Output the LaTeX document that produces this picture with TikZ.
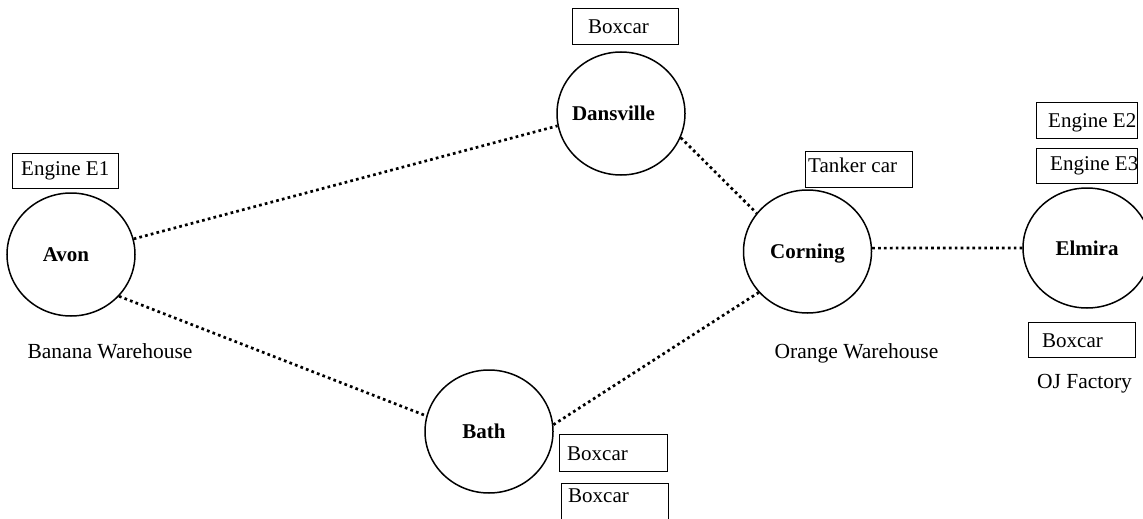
\documentclass[tikz,border=0pt]{standalone}
\usepackage{fontspec}
\setmainfont{Liberation Serif}
\usetikzlibrary{shapes.geometric}
\tikzset{
  town/.style={draw, ellipse, line width=1.5pt, inner sep=0pt, minimum width=128pt, minimum height=123pt,
    font=\fontsize{21}{25}\selectfont\bfseries, text height=14pt, text depth=0pt},
  carbox/.style={draw, rectangle, line width=1.2pt, inner sep=0pt, anchor=north west},
  boxtext/.style={anchor=base west, inner sep=0pt, font=\fontsize{21}{25}\selectfont},
  place/.style={anchor=base, inner sep=0pt, font=\fontsize{21.5}{25}\selectfont},
  track/.style={line width=2.7pt, dash pattern=on 2.7pt off 3.2pt}
}
\begin{document}
\begin{tikzpicture}[x=1pt,y=-1pt]
\useasboundingbox (0,0) rectangle (1143,519);
% towns
\node[town] (avon) at (71,254.5) {\hspace*{-10pt}Avon};
\node[town] (dans) at (621,113.5) {\hspace*{-15pt}Dansville};
\node[town] (corn) at (807.5,251.5) {Corning};
\node[town, minimum height=120pt] (elm) at (1087,248) {Elmira};
\node[town] (bath) at (489,431.5) {\hspace*{-10pt}Bath};
% tracks
\draw[track] (avon.14) -- (dans.191);
\draw[track] (avon.-41) -- (bath.166);
\draw[track] (dans.-22) -- (corn.143);
\draw[track] (bath.6) -- (corn.220);
\draw[track] (corn.3.2) -- (elm.180);
% car boxes
\node[carbox, minimum width=106pt, minimum height=35pt] (b1) at (12,153) {};
\node[boxtext] (b1t) at (21,175) {Engine E1};
\node[carbox, minimum width=106pt, minimum height=36pt] (b2) at (572,8) {};
\node[boxtext] (b2t) at (588,34) {Boxcar};
\node[carbox, minimum width=107pt, minimum height=36pt] (b3) at (805,151) {};
\node[boxtext] (b3t) at (808,172) {Tanker car};
\node[carbox, minimum width=101pt, minimum height=36pt] (b4) at (1036,102) {};
\node[boxtext] (b4t) at (1048,127) {Engine E2};
\node[carbox, minimum width=101pt, minimum height=35pt] (b5) at (1036,148) {};
\node[boxtext] (b5t) at (1050,170) {Engine E3};
\node[carbox, minimum width=107pt, minimum height=35pt] (b6) at (1028,322) {};
\node[boxtext] (b6t) at (1042,347) {Boxcar};
\node[carbox, minimum width=108pt, minimum height=37pt] (b7) at (559,434) {};
\node[boxtext] (b7t) at (567,460) {Boxcar};
\node[carbox, minimum width=107pt, minimum height=50pt] (b8) at (561,483) {};
\node[boxtext] (b8t) at (568,502) {Boxcar};
% place labels
\node[place] (banana) at (110,358) {Banana Warehouse};
\node[place] (orange) at (856.5,358) {Orange Warehouse};
\node[place] (oj) at (1084.5,388) {OJ Factory};
\end{tikzpicture}
\end{document}
